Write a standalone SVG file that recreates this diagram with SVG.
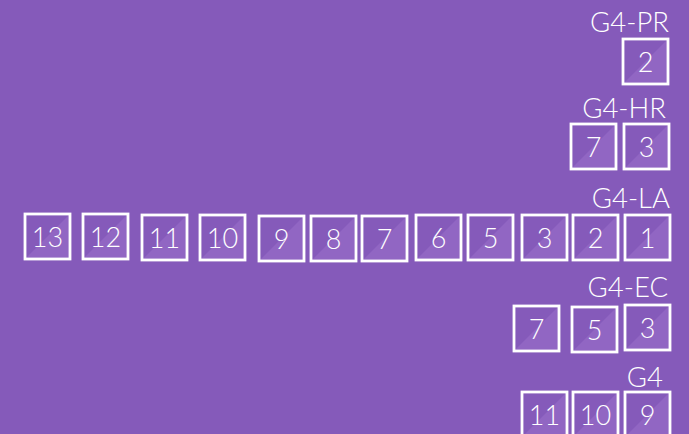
<svg xmlns="http://www.w3.org/2000/svg" xmlns:xlink="http://www.w3.org/1999/xlink" width="689" height="434" viewBox="0 0 689 434">
<style>
.lbl{font-family:Lato,"Open Sans","Liberation Sans",sans-serif;font-weight:300;font-size:27.5px;fill:#ffffff;text-anchor:end}
.num{font-family:Lato,"Open Sans","Liberation Sans",sans-serif;font-weight:300;font-size:27px;fill:#ffffff;text-anchor:middle}
.frame{fill:none;stroke:#ffffff;stroke-width:2.8}
.shade{fill:#9166c3}
</style>
<defs>
<g id="box">
<polygon class="shade" points="45,0 45,45 0,45"/>
<rect class="frame" x="0" y="0" width="45" height="45"/>
</g>
</defs>
<rect width="689" height="434" fill="#855aba"/>
<g id="labels">
<text class="lbl" x="669" y="32">G4-PR</text>
<text class="lbl" x="666" y="118">G4-HR</text>
<text class="lbl" x="670" y="208">G4-LA</text>
<text class="lbl" x="668" y="297">G4-EC</text>
<text class="lbl" x="663" y="387">G4</text>
</g>
<g id="connectors"></g>
<g id="pr-2"><use xlink:href="#box" x="623" y="39"/><text class="num" x="645.5" y="72">2</text></g>
<g id="hr-7"><use xlink:href="#box" x="571" y="124"/><text class="num" x="593.5" y="157">7</text></g>
<g id="hr-3"><use xlink:href="#box" x="624" y="124"/><text class="num" x="646.5" y="157">3</text></g>
<g id="la-13"><use xlink:href="#box" x="25" y="214"/><text class="num" x="47.5" y="247">13</text></g>
<g id="la-12"><use xlink:href="#box" x="83" y="214"/><text class="num" x="105.5" y="247">12</text></g>
<g id="la-11"><use xlink:href="#box" x="142" y="215"/><text class="num" x="164.5" y="248">11</text></g>
<g id="la-10"><use xlink:href="#box" x="200" y="215"/><text class="num" x="222.5" y="248">10</text></g>
<g id="la-9"><use xlink:href="#box" x="259" y="216"/><text class="num" x="281.5" y="249">9</text></g>
<g id="la-8"><use xlink:href="#box" x="311" y="216"/><text class="num" x="333.5" y="249">8</text></g>
<g id="la-7"><use xlink:href="#box" x="362" y="216"/><text class="num" x="384.5" y="249">7</text></g>
<g id="la-6"><use xlink:href="#box" x="416" y="215"/><text class="num" x="438.5" y="248">6</text></g>
<g id="la-5"><use xlink:href="#box" x="468" y="215"/><text class="num" x="490.5" y="248">5</text></g>
<g id="la-3"><use xlink:href="#box" x="522" y="215"/><text class="num" x="544.5" y="248">3</text></g>
<g id="la-2"><use xlink:href="#box" x="573" y="215"/><text class="num" x="595.5" y="248">2</text></g>
<g id="la-1"><use xlink:href="#box" x="625" y="215"/><text class="num" x="647.5" y="248">1</text></g>
<g id="ec-7"><use xlink:href="#box" x="514" y="306"/><text class="num" x="536.5" y="339">7</text></g>
<g id="ec-5"><use xlink:href="#box" x="572" y="307"/><text class="num" x="594.5" y="340">5</text></g>
<g id="ec-3"><use xlink:href="#box" x="625" y="305"/><text class="num" x="647.5" y="338">3</text></g>
<g id="g4-11"><use xlink:href="#box" x="522" y="392"/><text class="num" x="544.5" y="425">11</text></g>
<g id="g4-10"><use xlink:href="#box" x="573" y="392"/><text class="num" x="595.5" y="425">10</text></g>
<g id="g4-9"><use xlink:href="#box" x="625" y="392"/><text class="num" x="647.5" y="425">9</text></g>
</svg>
